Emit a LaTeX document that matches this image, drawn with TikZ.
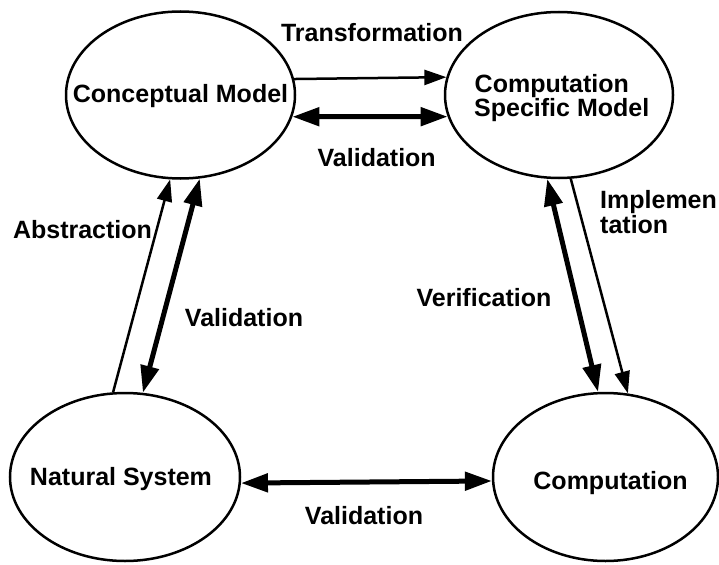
\documentclass[tikz,border=0pt]{standalone}
\usepackage{fontspec}
\setmainfont{Liberation Sans}
\usetikzlibrary{arrows.meta,shapes.geometric}
\tikzset{
  ell/.style={draw, ellipse, line width=2.5pt, inner sep=0pt},
  txt/.style={font=\fontsize{25}{25}\selectfont\bfseries, inner sep=0pt},
  thin/.style={line width=2.5pt, -{Triangle[length=22pt,width=15pt]}},
  thick2/.style={line width=5pt, {Triangle[length=27pt,width=18pt]}-{Triangle[length=27pt,width=18pt]}},
}
\begin{document}
\begin{tikzpicture}[x=1pt,y=-1pt]
\useasboundingbox (0,0) rectangle (719,564);
% ellipses
\node[ell, minimum width=229pt, minimum height=167pt] (cm) at (180.5,95) {};
\node[ell, minimum width=228pt, minimum height=166pt] (csm) at (559,95) {};
\node[ell, minimum width=230pt, minimum height=168pt] (ns) at (125,477) {};
\node[ell, minimum width=225pt, minimum height=168pt] (comp) at (605.5,477) {};
% ellipse texts
\node[txt, anchor=base] (cmt) at (180.5,102.3) {Conceptual Model};
\node[txt, anchor=base west] (csmt1) at (474.5,92.7) {Computation};
\node[txt, anchor=base west] (csmt2) at (474,117) {Specific Model};
\node[txt, anchor=base] (nst) at (121,485) {Natural System};
\node[txt, anchor=base] (compt) at (610.5,489) {Computation};
% connectors
\draw[thin] (cm.8.5) -- (csm.171.5);
\draw[thick2] (cm.-11) -- (csm.-169);
\draw[thin] (ns.98) -- (cm.-97);
\draw[thick2] (cm.-77.4) -- (ns.78);
\draw[thick2] (csm.-98.2) -- (comp.95.7);
\draw[thin] (csm.-82.6) -- (comp.75.8);
\draw[thick2] (ns.-3) -- (comp.182);
% labels
\node[txt, anchor=base] (ltr) at (372,41.7) {Transformation};
\node[txt, anchor=base] (lvt) at (376.7,166.7) {Validation};
\node[txt, anchor=base] (lab) at (82.5,238.3) {Abstraction};
\node[txt, anchor=base] (lvl) at (244,326.7) {Validation};
\node[txt, anchor=base] (lve) at (484,306.7) {Verification};
\node[txt, anchor=base west] (lim1) at (600,208.3) {Implemen};
\node[txt, anchor=base west] (lim2) at (600,233.3) {tation};
\node[txt, anchor=base] (lvb) at (364,524.3) {Validation};
\end{tikzpicture}
\end{document}
